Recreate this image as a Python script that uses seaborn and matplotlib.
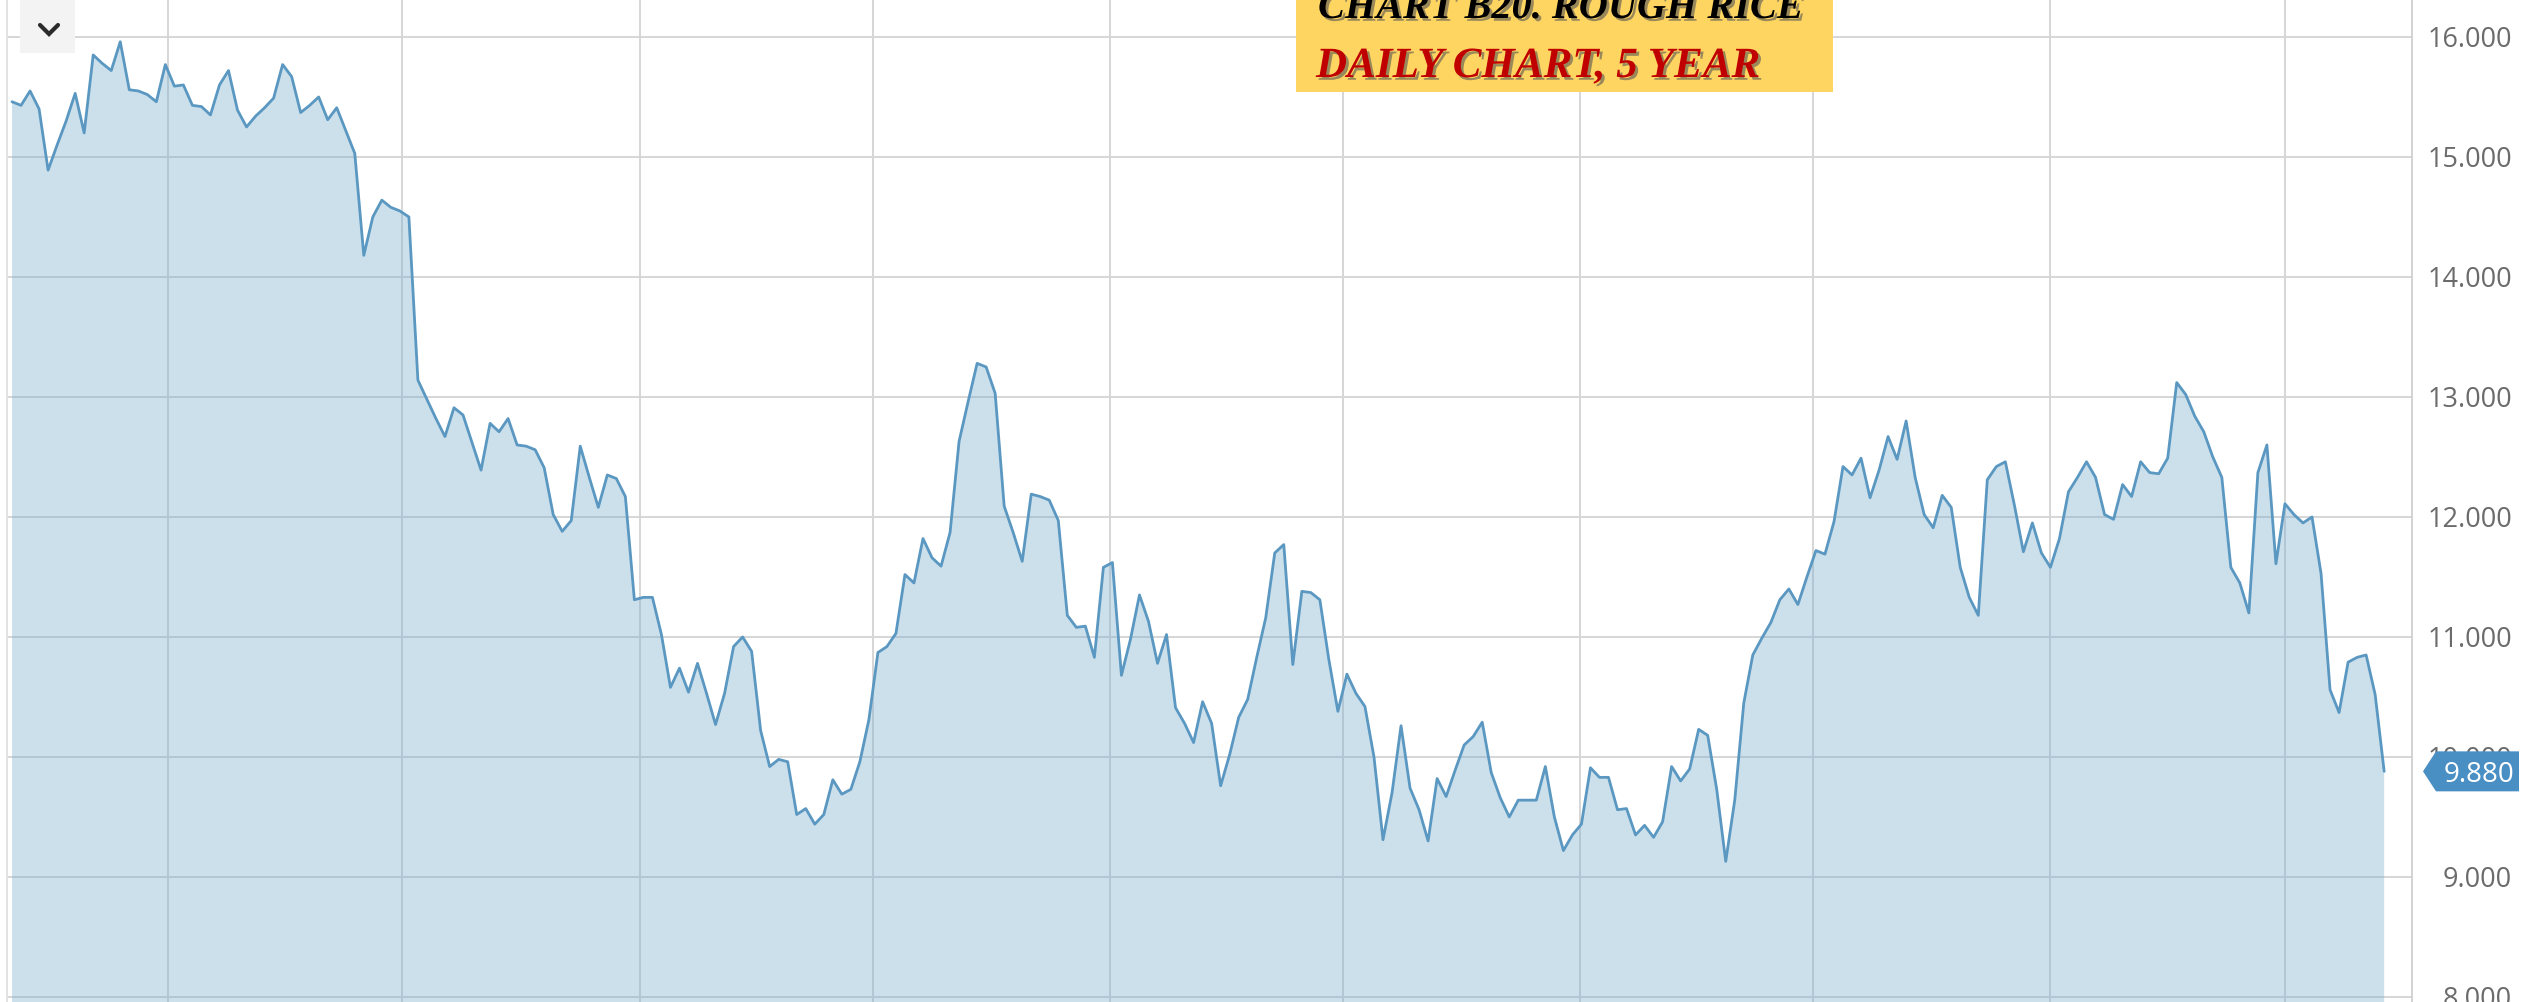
import numpy as np
import pandas as pd
import matplotlib
matplotlib.use("Agg")
import matplotlib.pyplot as plt
import matplotlib.dates as mdates
import matplotlib.transforms as mtrans
import matplotlib.patheffects as pe
from matplotlib.patches import Polygon, Rectangle
from matplotlib.lines import Line2D
import seaborn as sns

# ---------------- data (weekly closes, rough rice futures) ----------------
START_DATE = "2011-09-02"

prices_part1 = [15.46, 15.43, 15.55, 15.40, 14.89, 15.10, 15.30, 15.53, 15.20, 15.85,
                15.78, 15.72, 15.96, 15.56, 15.55, 15.52, 15.46, 15.77, 15.59, 15.60,
                15.43, 15.42, 15.35, 15.60, 15.72, 15.39, 15.25, 15.34, 15.41, 15.49,
                15.77, 15.67, 15.37, 15.43, 15.50, 15.31, 15.41, 15.22, 15.03, 14.18,
                14.50, 14.64, 14.58, 14.55, 14.50, 13.14, 12.98, 12.82, 12.67, 12.91,
                12.85, 12.62, 12.39]
prices_part2 = [12.78, 12.71, 12.82, 12.60, 12.59, 12.56, 12.41, 12.02, 11.88, 11.97,
                12.59, 12.33, 12.08, 12.35, 12.32, 12.17, 11.31, 11.33, 11.33, 11.02,
                10.58, 10.74, 10.54, 10.78, 10.53, 10.27, 10.53, 10.92, 11.00, 10.88,
                10.22, 9.92, 9.98, 9.96, 9.52, 9.57, 9.44, 9.52, 9.81, 9.69,
                9.73, 9.96, 10.31, 10.87, 10.92, 11.03, 11.52, 11.45, 11.82, 11.66,
                11.59, 11.87, 12.63]
prices_part3 = [12.96, 13.28, 13.25, 13.03, 12.09, 11.87, 11.63, 12.19, 12.17, 12.14,
                11.97, 11.18, 11.08, 11.09, 10.83, 11.58, 11.62, 10.68, 10.98, 11.35,
                11.13, 10.78, 11.02, 10.41, 10.28, 10.12, 10.46, 10.28, 9.76, 10.02,
                10.33, 10.48, 10.83, 11.16, 11.70, 11.77, 10.77, 11.38, 11.37, 11.31,
                10.81, 10.38, 10.69, 10.53, 10.42, 10.00, 9.31, 9.70, 10.26, 9.74,
                9.56, 9.30, 9.82]
prices_part4 = [9.67, 9.89, 10.10, 10.17, 10.29, 9.87, 9.66, 9.50, 9.64, 9.64,
                9.64, 9.92, 9.50, 9.22, 9.35, 9.44, 9.91, 9.83, 9.83, 9.56,
                9.57, 9.35, 9.43, 9.33, 9.46, 9.92, 9.80, 9.90, 10.23, 10.18,
                9.73, 9.13, 9.64, 10.45, 10.85, 10.99, 11.12, 11.31, 11.40, 11.27,
                11.50, 11.72, 11.69, 11.96, 12.42, 12.35, 12.49, 12.16, 12.39, 12.67,
                12.48, 12.80, 12.33]
prices_part5 = [12.02, 11.91, 12.18, 12.08, 11.58, 11.33, 11.18, 12.31, 12.42, 12.46,
                12.10, 11.71, 11.95, 11.70, 11.58, 11.82, 12.21, 12.33, 12.46, 12.33,
                12.02, 11.98, 12.27, 12.17, 12.46, 12.37, 12.36, 12.49, 13.12, 13.02,
                12.84, 12.71, 12.50, 12.33, 11.58, 11.45, 11.20, 12.37, 12.60, 11.61,
                12.11, 12.02, 11.95, 12.00, 11.53, 10.56, 10.37, 10.79, 10.83, 10.85,
                10.52, 9.88]

y_ticks = [8, 9, 10, 11, 12, 13, 14, 15, 16]
title_line1 = "CHART B20. ROUGH RICE"
title_line2 = "DAILY CHART, 5 YEAR"

prices = prices_part1 + prices_part2 + prices_part3 + prices_part4 + prices_part5
dates = pd.date_range(START_DATE, periods=len(prices), freq="7D")
df = pd.DataFrame({"date": dates, "price": prices})

# ---------------- figure ----------------
W, H = 2522, 1002
sns.set_style("white")
plt.rcParams["font.family"] = ["Open Sans", "DejaVu Sans"]

fig = plt.figure(figsize=(W / 100, H / 100), dpi=100)
ax = fig.add_axes([7 / W, 0, (2412 - 7) / W, 1])

line_color = "#5a97c1"
fill_color = "#73a9cc"

ax.fill_between(df["date"], df["price"], 7.0, color=fill_color, alpha=0.36,
                linewidth=0, zorder=2)
sns.lineplot(data=df, x="date", y="price", ax=ax, color=line_color,
             linewidth=2.0, zorder=3)

start = pd.Timestamp(START_DATE)
ax.set_xlim(mdates.date2num(start - pd.Timedelta(days=3.9)),
            mdates.date2num(start + pd.Timedelta(days=1862.6)))
ax.set_ylim(7.958, 16.308)

ax.xaxis.set_major_locator(mdates.MonthLocator(bymonth=[1, 7]))
ax.set_yticks(y_ticks)
ax.set_yticklabels([f"{t:.3f}" for t in y_ticks])
ax.yaxis.tick_right()
ax.tick_params(axis="x", length=0, labelbottom=False)
ax.tick_params(axis="y", length=0, pad=72, labelsize=19.5, labelcolor="#6b6b6b")
for lbl in ax.get_yticklabels():
    lbl.set_horizontalalignment("right")
ax.set_xlabel("")
ax.set_ylabel("")

ax.grid(True, color="#d6d6d6", linewidth=1.4)
ax.set_axisbelow(True)
for s in ["top", "bottom"]:
    ax.spines[s].set_visible(False)
ax.spines["left"].set_color("#e2e2e2")
ax.spines["left"].set_linewidth(1.4)
ax.spines["right"].set_color("#d2d2d2")
ax.spines["right"].set_linewidth(1.4)

# ---------------- last-price tag ----------------
last = prices[-1]
trans = mtrans.blended_transform_factory(fig.transFigure, ax.transData)
h = 20 / 120
x0, x1, x2 = 2423 / W, 2436 / W, 2519 / W
tag = Polygon([(x0, last), (x1, last + h), (x2, last + h), (x2, last - h), (x1, last - h)],
              closed=True, transform=trans, facecolor="#4a8fc4", edgecolor="none",
              clip_on=False, zorder=10)
fig.add_artist(tag)
fig.text(2514 / W, last, f"{last:.3f}", transform=trans, color="white", fontsize=20,
         ha="right", va="center_baseline", zorder=11)

# ---------------- title box ----------------
box = Rectangle((1296 / W, 1 - 92 / H), (1833 - 1296) / W, 92 / H,
                transform=fig.transFigure, facecolor="#FFD561", edgecolor="none",
                zorder=20)
fig.add_artist(box)
shadow = [pe.withSimplePatchShadow(offset=(2, -2), shadow_rgbFace="#555555", alpha=0.6)]
fig.text(1318 / W, 1 - 18 / H, title_line1, fontsize=29, color="black",
         family=["Liberation Serif", "DejaVu Serif"], weight="bold", style="italic",
         ha="left", va="baseline", zorder=21, path_effects=shadow)
fig.text(1316 / W, 1 - 77 / H, title_line2, fontsize=31, color="#C00000",
         family=["Liberation Serif", "DejaVu Serif"], weight="bold", style="italic",
         ha="left", va="baseline", zorder=21, path_effects=shadow)

# ---------------- dropdown button (top-left) ----------------
btn = Rectangle((20 / W, 1 - 53 / H), 55 / W, 53 / H, transform=fig.transFigure,
                facecolor="#f3f3f3", edgecolor="none", zorder=20)
fig.add_artist(btn)
chev = Line2D([40 / W, 49 / W, 58 / W], [1 - 25 / H, 1 - 34 / H, 1 - 25 / H],
              transform=fig.transFigure, color="#2b2b2b", linewidth=3,
              solid_capstyle="round", solid_joinstyle="miter", zorder=21)
fig.add_artist(chev)

fig.savefig("out.png", dpi=100, facecolor="white")
